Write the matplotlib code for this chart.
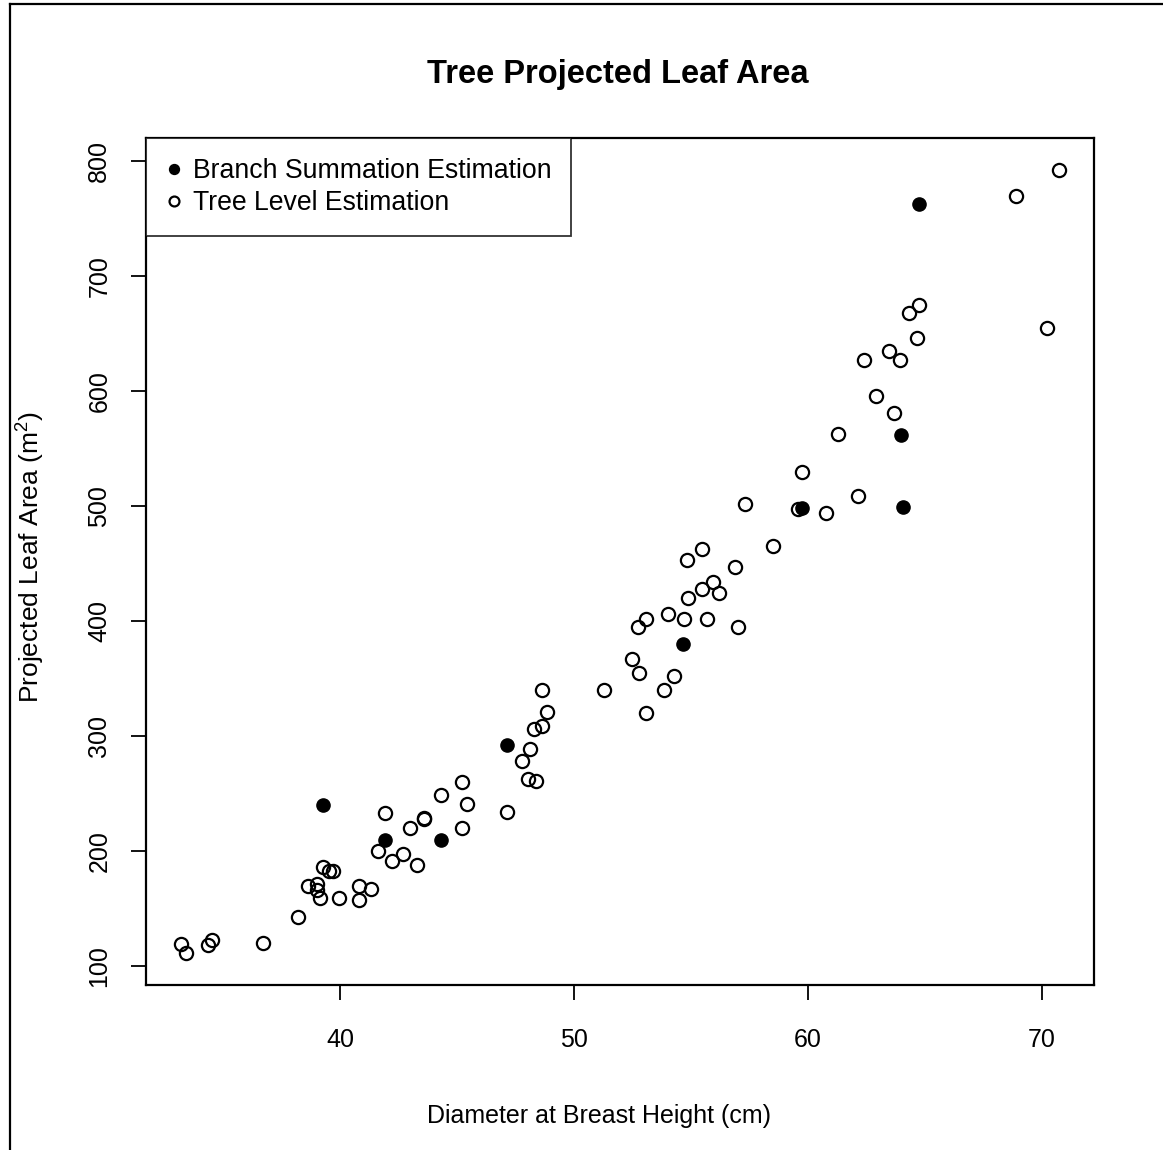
import matplotlib
matplotlib.use('Agg')
import matplotlib.pyplot as plt
from matplotlib.lines import Line2D

plt.rcParams['font.family'] = ['Liberation Sans', 'DejaVu Sans']
plt.rcParams['mathtext.fontset'] = 'custom'
plt.rcParams['mathtext.rm'] = 'Liberation Sans'

# Branch summation estimates (filled)
dbh_branch = [39.26, 41.92, 44.33, 47.12, 54.67, 59.76, 64.05, 63.99, 64.76]
pla_branch = [240, 210, 210, 292, 380, 498, 499, 562, 763]

# Tree level estimates (open)
dbh_tree = [33.21, 33.41, 34.35, 34.54, 36.72, 38.21, 38.63, 39.02, 39.00, 39.15,
            39.29, 39.54, 39.69, 39.94, 40.81, 40.81, 41.32, 41.61, 41.91, 42.22,
            42.71, 43.01, 43.29, 43.59, 43.60, 44.32, 45.20, 45.43, 45.20, 47.12,
            47.76, 48.05, 48.36, 48.12, 48.27, 48.65, 48.86, 48.65, 51.28, 53.08,
            53.85, 54.29, 52.78, 52.47, 52.72, 53.08, 54.00, 54.69, 55.67, 56.99,
            54.87, 55.47, 56.20, 55.92, 56.90, 54.82, 55.49, 57.29, 58.50, 59.59,
            59.76, 60.75, 62.12, 61.30, 63.66, 62.91, 62.41, 63.94, 63.44, 64.64,
            64.32, 64.74, 70.20, 68.88, 70.71]
pla_tree = [119, 111, 118, 123, 120, 143, 170, 171, 166, 159,
            186, 183, 183, 159, 170, 157, 167, 200, 233, 191,
            197, 220, 188, 229, 228, 249, 260, 241, 220, 234,
            278, 263, 261, 289, 306, 309, 321, 340, 340, 320,
            340, 352, 355, 367, 395, 402, 406, 402, 402, 395,
            420, 428, 424, 434, 447, 453, 463, 502, 465, 497,
            530, 494, 509, 563, 581, 596, 627, 627, 635, 646,
            668, 675, 655, 770, 792]

fig = plt.figure(figsize=(11.63, 11.5), dpi=100)
ax = fig.add_axes([146/1163, (1150-985)/1150, (1094-146)/1163, (985-138)/1150])

ax.plot(dbh_branch, pla_branch, 'o', color='black', markersize=9.5,
        label='Branch Summation Estimation', zorder=3)
ax.plot(dbh_tree, pla_tree, 'o', markerfacecolor='none', markeredgecolor='black',
        markeredgewidth=1.6, markersize=9.5, label='Tree Level Estimation', zorder=2)

ax.set_xlim(31.71, 72.22)
ax.set_ylim(83.5, 820)
ax.set_xticks([40, 50, 60, 70])
ax.set_yticks([100, 200, 300, 400, 500, 600, 700, 800])
ax.tick_params(axis='both', length=11, width=1.3, labelsize=18, direction='out')
ax.tick_params(axis='x', pad=20)
ax.tick_params(axis='y', pad=14)
for lab in ax.get_yticklabels():
    lab.set_rotation(90)
    lab.set_verticalalignment('center')
for sp in ax.spines.values():
    sp.set_linewidth(1.6)

ax.set_xlabel('Diameter at Breast Height (cm)', fontsize=18)
ax.xaxis.set_label_coords((599-146)/948, (985-1104)/847)
ax.set_ylabel('Projected Leaf Area (m$^{2}$)', fontsize=19)
ax.yaxis.set_label_coords((46-146)/948, 0.505)

fig.text(618/1163, 1-75/1150, 'Tree Projected Leaf Area', ha='center', va='center',
         fontsize=23.5, fontweight='bold')

leg = ax.legend(loc='upper left', bbox_to_anchor=(0, 1), borderaxespad=0,
                fancybox=False, fontsize=19.2, handlelength=0.6, handletextpad=0.4,
                borderpad=0.75, labelspacing=0.22, markerscale=0.75)
leg.get_frame().set_edgecolor('black')
leg.get_frame().set_linewidth(1.3)

# outer frame
fig.add_artist(Line2D([10/1163, 10/1163], [0, 1-4/1150], color='black', lw=1.6))
fig.add_artist(Line2D([10/1163, 1162/1163], [1-4/1150, 1-4/1150], color='black', lw=1.6))

fig.savefig('out.png', dpi=100)
